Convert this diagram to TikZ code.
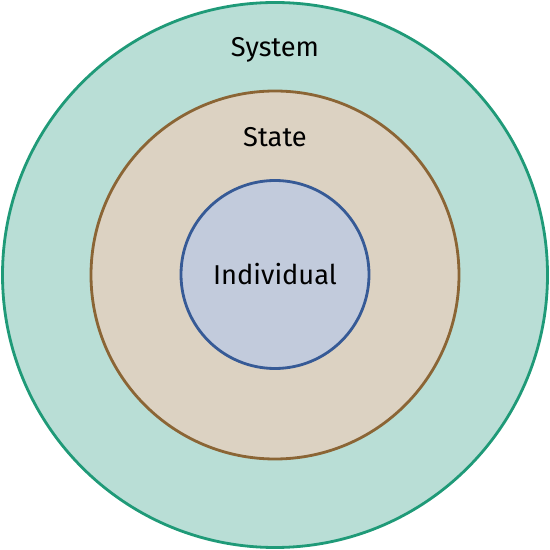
\documentclass[tikz,border=0pt]{standalone}
\usepackage{fontspec}
\setmainfont{Fira Sans}
\usepackage{tikz}
\usetikzlibrary{positioning}
\definecolor{systemgreen}{RGB}{31, 154, 120}
\definecolor{systemfill}{RGB}{185, 222, 214}
\definecolor{statebrown}{RGB}{139, 101, 53}
\definecolor{statefill}{RGB}{220, 210, 194}
\definecolor{indivblue}{RGB}{54, 90, 150}
\definecolor{indivfill}{RGB}{194, 203, 220}

\begin{document}
\begin{tikzpicture}[
            ring/.style={circle, line width=1.6pt, inner sep=0pt},
            systemring/.style={ring, draw=systemgreen, fill=systemfill, minimum size=10.9cm},
            statering/.style={ring, draw=statebrown, fill=statefill, minimum size=7.36cm},
            indivring/.style={ring, draw=indivblue, fill=indivfill, minimum size=3.76cm},
            label/.style={font=\fontsize{15.5}{18}\selectfont, text=black}
        ]
            \useasboundingbox (0,0) rectangle (11,11);
            \node[systemring] (system) at (5.5,5.5) {};
            \node[statering] (state) at (5.5,5.5) {};
            \node[indivring] (indiv) at (5.5,5.51) {};

            \node[label, below=0.6cm of system.north] (systemlabel) {System};
            \node[label, below=0.63cm of state.north] (statelabel) {State};
            \node[label] (indivlabel) at (indiv.center) {Individual};
        \end{tikzpicture}
\end{document}
